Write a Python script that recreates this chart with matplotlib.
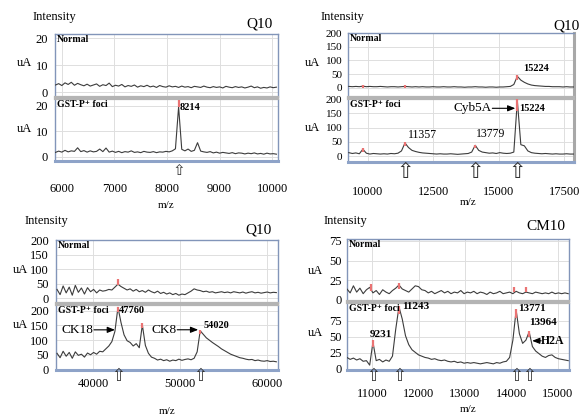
import matplotlib
matplotlib.use('Agg')
import matplotlib.pyplot as plt
import matplotlib.transforms as mtransforms
import numpy as np

plt.rcParams['font.family'] = ['Liberation Serif', 'DejaVu Serif', 'DejaVu Sans']

# ---------------- DATA ----------------
# Panel 1 (Q10, low mass) : grid start / step
p1_start, p1_step = 5880, 60
p1_normal = [2.6, 3.1, 2.4, 3.4, 2.8, 3.6, 2.5, 3.2, 2.7, 2.3,
             2.9, 2.2, 2.6, 3.0, 2.1, 2.7, 2.4, 3.3, 2.0, 2.5,
             2.2, 2.8, 1.9, 2.4, 2.1, 2.6, 1.8, 2.3, 2.0, 2.5,
             1.9, 2.2, 1.7, 2.4, 2.0, 1.8, 2.3, 1.9, 2.1, 1.7,
             2.2, 1.8, 2.0, 1.6, 2.1, 1.9, 1.7, 2.2, 1.8, 1.6,
             2.0, 1.7, 1.9, 1.5, 2.1, 1.8, 1.6, 2.0, 1.7, 1.9,
             1.5, 1.8, 2.2, 1.6, 1.9, 1.4, 1.7, 1.5, 1.9, 1.6, 1.8]
p1_foci = [1.8, 2.3, 1.9, 2.6, 2.0, 2.4, 2.2, 3.6, 2.1, 2.5,
           1.9, 2.4, 2.0, 2.2, 3.1, 2.1, 3.5, 1.9, 2.3, 1.8,
           2.2, 1.7, 2.1, 1.9, 2.4, 1.8, 2.0, 1.7, 2.2, 1.9,
           1.8, 2.1, 1.7, 2.0, 1.9, 2.2, 2.0, 2.4, 3.2, 19.6,
           3.0, 2.4, 3.1, 2.2, 2.6, 5.6, 2.3, 2.0, 1.8, 2.1,
           1.6, 1.9, 1.5, 1.8, 1.6, 1.4, 1.7, 1.3, 1.6, 1.5,
           1.2, 1.5, 1.3, 1.6, 1.2, 1.4, 1.1, 1.5, 1.2, 1.3, 1.1]
p1_xticks = [6000, 7000, 8000, 9000, 10000]
p1_yticks = [0, 10, 20]
p1_peaks = [(8220, 19.6, '8214')]            # (axis position, height, label)
p1_red = [(8220, 19.6, 22.5)]
p1_arrows = [8220]

# Panel 2 (Q10, mid mass)
p2_start, p2_step = 9268, 134
p2_normal = [5, 4, 5, 4, 6, 4, 5, 4, 4, 5,
             4, 3, 4, 4, 3, 4, 5, 4, 3, 4,
             3, 4, 3, 3, 4, 3, 3, 4, 3, 3,
             4, 3, 3, 2, 3, 3, 4, 3, 3, 2,
             3, 3, 2, 3, 3, 4, 5, 12,
             42,
             28, 20, 14, 10, 8, 7, 6, 5, 5, 4,
             4, 4, 3, 4, 3, 3]
p2_foci = [12, 9, 11, 8, 24, 10, 7, 9, 8, 7,
           8, 7, 9, 8, 10, 18, 46, 30, 20, 16,
           13, 11, 10, 9, 8, 7, 8, 7, 7, 8,
           7, 6, 7, 8, 9, 14, 38, 20, 14, 12,
           10, 11, 9, 12, 10, 9, 10, 14,
           195,
           40, 36, 18, 12, 10, 9, 8, 9, 8, 7,
           8, 7, 7, 8, 7, 7]
p2_xticks = [10000, 12500, 15000, 17500]
p2_yticks = [0, 50, 100, 150, 200]
p2_red_normal = [(9804, 0, 12), (11412, 0, 12), (15700, 30, 45)]
p2_red_foci = [(9804, 14, 27), (11412, 34, 48), (14092, 27, 40), (15700, 160, 200)]
p2_arrows = [11412, 14092, 15700]

# Panel 3 (Q10, high mass)
p3_start, p3_step = 35870, 350
p3_normal = [30, 12, 42, 18, 38, 10, 44, 20, 35, 14,
             36, 22, 30, 18, 28, 24, 26, 30, 28, 38,
             48, 40, 34, 28, 32, 24, 30, 22, 26, 20,
             28, 22, 18, 24, 16, 20, 14, 18, 12, 16,
             10, 14, 12, 18, 24, 32, 28, 26, 22, 24,
             20, 22, 18, 20, 22, 19, 21, 18, 22, 20,
             18, 21, 17, 20, 22, 18, 20, 17, 19, 21, 18, 20, 19]
p3_foci = [55, 40, 62, 45, 58, 38, 60, 48, 52, 42,
           56, 50, 58, 52, 62, 60, 70, 80, 95, 130,
           212,
           160, 118, 98, 92, 80, 88, 74, 152, 82,
           55, 42, 38, 32, 35, 30, 33, 28, 32, 30,
           35, 31, 34, 36, 33, 38, 60,
           132,
           120, 108, 100, 92, 85, 78, 70, 64, 58, 52,
           48, 44, 40, 38, 35, 33, 34, 30, 32, 29, 28, 30, 27, 28, 26]
p3_xticks = [40000, 50000, 60000]
p3_yticks = [0, 50, 100, 150, 200]
p3_red_normal = [(42870, 46, 66)]
p3_red_foci = [(42870, 195, 214), (45670, 140, 160), (52320, 120, 134)]
p3_arrows = [42870, 52320]

# Panel 4 (CM10)
p4_start, p4_step = 10460, 70
p4_normal = [14, 9, 18, 10, 15, 8, 13, 16, 9, 12,
             7, 13, 10, 8, 12, 15, 19, 14, 12, 10,
             14, 18, 17, 13, 12, 9, 11, 8, 10, 12,
             9, 11, 8, 10, 9, 12, 8, 10, 9, 11,
             8, 10, 9, 7, 10, 8, 9, 11, 8, 9,
             10, 8, 11, 9, 8, 10, 9, 8, 10, 9,
             8, 9, 8, 10, 8, 9, 8, 9, 8]
p4_foci = [18, 15, 17, 14, 16, 12, 13, 6,
           42,
           13, 15, 11, 14, 12, 20, 62,
           97,
           78, 52, 38, 30, 26, 22, 20, 18, 17, 15, 16, 14, 13,
           14, 12, 11, 12, 10, 11, 9, 10, 9, 10,
           9, 8, 9, 10, 9, 8, 10, 9, 11, 12,
           18, 45,
           92,
           55, 40, 45,
           58,
           35, 28, 24, 20, 18, 21, 22, 18, 16, 15, 14, 13]
p4_xticks = [11000, 12000, 13000, 14000, 15000]
p4_yticks = [0, 25, 50, 75]
p4_red_normal = [(10980, 12, 20), (11580, 14, 22), (14050, 10, 17), (14310, 10, 17)]
p4_red_foci = [(11020, 34, 45), (11580, 86, 99), (14100, 80, 94), (14380, 50, 60)]
p4_arrows = [11020, 11580, 14100, 14380]

# ---------------- FIGURE ----------------
W, H = 582, 416
fig = plt.figure(figsize=(W / 100, H / 100), dpi=100)

BORDER = '#8295b9'
SEP = '#b4b4b4'
GRID = '#dedede'
LINE = '#3c3c3c'
RED = '#ea7373'


def add_ax(x0, y0, x1, y1):
    return fig.add_axes([x0 / W, 1 - y1 / H, (x1 - x0) / W, (y1 - y0) / H])


def off(ax, dx, dy):
    # pixel offset (dy positive = down)
    return ax.transData + mtransforms.ScaledTranslation(dx / 100, -dy / 100, fig.dpi_scale_trans)


def trace(ax, start, step, vals):
    x = start + step * np.arange(len(vals))
    ax.plot(x, vals, color=LINE, lw=0.8, zorder=3)


def red(ax, marks):
    for x, y0, y1 in marks:
        ax.plot([x, x], [y0, y1], color=RED, lw=1.6, zorder=4, solid_capstyle='butt')


def style(ax, xlim, ylim, xticks, yticks, bottom, ypad, xpad=0, right_gray=False, ysize=9):
    ax.set_xlim(*xlim)
    ax.set_ylim(*ylim)
    ax.set_xticks(xticks)
    ax.set_yticks(yticks)
    ax.set_yticklabels([str(t) for t in yticks])
    ax.tick_params(axis='y', length=0, labelsize=ysize, pad=ypad)
    if bottom:
        ax.set_xticklabels([str(t) for t in xticks])
        ax.tick_params(axis='x', length=0, labelsize=9, pad=xpad)
    else:
        ax.tick_params(axis='x', length=0, labelbottom=False)
    ax.grid(True, color=GRID, lw=0.7)
    ax.set_axisbelow(True)
    for s in ax.spines.values():
        s.set_color(BORDER)
        s.set_linewidth(1.0)
    if bottom:
        ax.spines['top'].set_color(SEP)
        ax.spines['top'].set_linewidth(1.6)
        ax.spines['bottom'].set_linewidth(2.2)
        ax.spines['bottom'].set_color('#8ea3c8')
    else:
        ax.spines['bottom'].set_color(SEP)
        ax.spines['bottom'].set_linewidth(1.6)
    if right_gray:
        ax.spines['right'].set_color('#a8a8a8')
        ax.spines['right'].set_linewidth(2.2)


def tag(ax, s):
    ax.text(0.008, 0.985, s, transform=ax.transAxes, ha='left', va='top',
            fontsize=7, fontweight='bold', color='black', zorder=6)


def up_arrows(ax, xs, dy, size):
    tr = mtransforms.blended_transform_factory(ax.transData, ax.transAxes)
    for x in xs:
        ax.annotate('\u21e7', xy=(x, 0), xycoords=tr, xytext=(0, -dy * 0.72),
                    textcoords='offset points', ha='center', va='center',
                    fontsize=size, family='DejaVu Sans', color='#333333',
                    annotation_clip=False)


def ptext(ax, x, y, s, dx, dy, ha='left', size=8, weight='normal'):
    ax.text(x, y, s, transform=off(ax, dx, dy), ha=ha, va='center',
            fontsize=size, fontweight=weight, zorder=6)


def parrow(ax, x, y, dx0, dx1, dy):
    ax.annotate('', xy=(x, y), xycoords=off(ax, dx1, dy),
                xytext=(x, y), textcoords=off(ax, dx0, dy),
                arrowprops=dict(arrowstyle='-|>,head_length=0.45,head_width=0.18',
                                color='black', lw=0.8, shrinkA=0, shrinkB=0),
                zorder=6)


def ftext(x, y, s, size=9, ha='left'):
    fig.text(x / W, 1 - y / H, s, ha=ha, va='center', fontsize=size)


# ---- Panel 1 ----
a1t = add_ax(55, 34, 278, 97)
a1b = add_ax(55, 99, 278, 161)
trace(a1t, p1_start, p1_step, p1_normal)
trace(a1b, p1_start, p1_step, p1_foci)
style(a1t, (5870, 10110), (-1.85, 21.5), p1_xticks, p1_yticks, False, 5)
style(a1b, (5870, 10110), (-1.57, 22.7), p1_xticks, p1_yticks, True, 5, xpad=16)
red(a1b, p1_red)
tag(a1t, 'Normal')
tag(a1b, 'GST-P\u207a foci')
for x, y, s in p1_peaks:
    ptext(a1b, x, y, s, 1, 0.5, size=7.5, weight='bold')
up_arrows(a1b, p1_arrows, 9, 11)
ftext(33, 17, 'Intensity')
ftext(246, 24, 'Q10', size=11)
ftext(17, 63, 'uA')
ftext(17, 129, 'uA')
ftext(166, 205, 'm/z', size=8, ha='center')

# ---- Panel 2 ----
a2t = add_ax(348, 33, 574, 97)
a2b = add_ax(348, 99, 574, 162)
trace(a2t, p2_start, p2_step, p2_normal)
trace(a2b, p2_start, p2_step, p2_foci)
style(a2t, (9237, 17863), (-33.7, 200.5), p2_xticks, p2_yticks, False, 4,
      right_gray=True, ysize=8)
style(a2b, (9237, 17863), (-21, 201), p2_xticks, p2_yticks, True, 4, xpad=17,
      right_gray=True, ysize=8)
red(a2t, p2_red_normal)
red(a2b, p2_red_foci)
tag(a2t, 'Normal')
tag(a2b, 'GST-P\u207a foci')
ptext(a2t, 15700, 42, '15224', 6, -7.6, size=7.5, weight='bold')
ptext(a2b, 15700, 195, '15224', 2, 7.6, size=7.5, weight='bold')
ptext(a2b, 15700, 195, 'Cyb5A', -26, 7.6, ha='right', size=9.5)
parrow(a2b, 15700, 195, -25, -2, 7.6)
ptext(a2b, 11412, 46, '11357', 3, -8, size=8.5)
ptext(a2b, 14092, 38, '13779', 1, -11, size=8.5)
up_arrows(a2b, p2_arrows, 10.5, 15)
ftext(321, 17, 'Intensity')
ftext(553, 26, 'Q10', size=11)
ftext(305, 63, 'uA')
ftext(305, 128, 'uA')
ftext(468, 202, 'm/z', size=8, ha='center')

# ---- Panel 3 ----
a3t = add_ax(56, 240, 278, 303)
a3b = add_ax(56, 305, 278, 370)
trace(a3t, p3_start, p3_step, p3_normal)
trace(a3b, p3_start, p3_step, p3_foci)
style(a3t, (35750, 61260), (-17, 201), p3_xticks, p3_yticks, False, 5)
style(a3b, (35750, 61260), (-2, 220), p3_xticks, p3_yticks, True, 5, xpad=6)
red(a3t, p3_red_normal)
red(a3b, p3_red_foci)
tag(a3t, 'Normal')
tag(a3b, 'GST-P\u207a foci')
ptext(a3b, 42870, 212, '47760', 1, 3.5, size=7.5, weight='bold')
ptext(a3b, 42870, 212, 'CK18', -25, 22.5, ha='right', size=9.5)
parrow(a3b, 42870, 212, -24, -3, 22.5)
ptext(a3b, 52320, 132, '54020', 3, -5, size=7.5, weight='bold')
ptext(a3b, 52320, 132, 'CK8', -24, -1, ha='right', size=9.5)
parrow(a3b, 52320, 132, -23, -2, -1)
up_arrows(a3b, p3_arrows, 6, 12)
ftext(25, 221, 'Intensity')
ftext(245, 230, 'Q10', size=11)
ftext(13, 270, 'uA')
ftext(13, 325, 'uA')
ftext(167, 411, 'm/z', size=8, ha='center')

# ---- Panel 4 ----
a4t = add_ax(347, 239, 569, 301)
a4b = add_ax(347, 303, 569, 370)
trace(a4t, p4_start, p4_step, p4_normal)
trace(a4b, p4_start, p4_step, p4_foci)
style(a4t, (10462, 15237), (-1.3, 77.5), p4_xticks, p4_yticks, False, 4)
style(a4b, (10462, 15237), (-1.6, 103), p4_xticks, p4_yticks, True, 4, xpad=13)
red(a4t, p4_red_normal)
red(a4b, p4_red_foci)
tag(a4t, 'Normal')
tag(a4b, 'GST-P\u207a foci')
ptext(a4b, 11020, 42, '9231', -3, -8, size=8, weight='bold')
ptext(a4b, 11580, 97, '11243', 3, 0, size=8, weight='bold')
ptext(a4b, 14100, 92, '13771', 2, -2, size=8, weight='bold')
ptext(a4b, 14380, 58, '13964', 0, -9, size=8, weight='bold')
ptext(a4b, 14380, 58, 'H2A', 12, 9, size=8.5, weight='bold')
parrow(a4b, 14380, 58, 12, 3, 9)
up_arrows(a4b, p4_arrows, 6, 12)
ftext(324, 221, 'Intensity')
ftext(526, 227, 'CM10', size=11)
ftext(308, 271, 'uA')
ftext(308, 333, 'uA')
ftext(468, 410, 'm/z', size=8, ha='center')

fig.savefig('out.png', dpi=100)
